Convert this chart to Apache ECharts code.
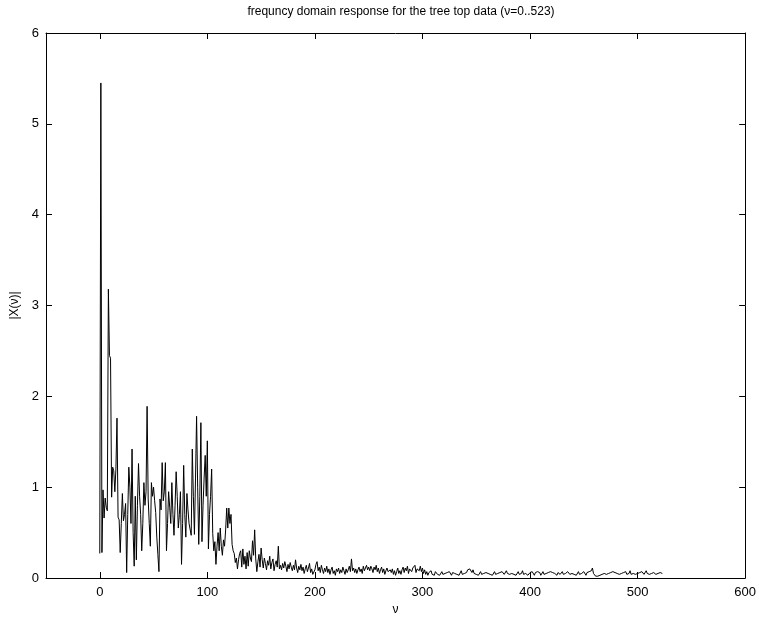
<!DOCTYPE html>
<html>
<head>
<meta charset="utf-8">
<script src="https://cdn.jsdelivr.net/npm/echarts@6/dist/echarts.min.js"></script>
<style>
  html, body { margin: 0; padding: 0; background: #fff; }
  #chart { width: 759px; height: 621px; }
</style>
</head>
<body>
<div id="chart"></div>
<script>
// |X(v)| for v = 0..523
const headValues = [
  0.27, 5.45, 0.28, 0.97, 0.66, 0.88, 0.78, 0.74, 3.18, 2.45,
  2.42, 0.89, 1.22, 1.18, 0.95, 1.20, 1.76, 0.67, 0.64, 0.28,
  0.60, 0.93, 0.63, 0.70, 0.82, 0.06, 0.70, 1.22, 1.00, 0.60,
  1.42, 0.50, 0.13, 0.90, 0.20, 0.80, 1.26, 0.90, 0.70, 0.30,
  0.60, 1.05, 0.80, 0.95, 1.89, 0.87, 0.60, 0.35, 1.05, 0.90,
  1.00, 0.85, 0.72, 0.45, 0.26, 0.07, 0.87, 0.75, 1.27, 0.85,
  0.95, 1.27, 0.30, 0.60, 0.95, 0.78, 0.60, 1.05, 0.70, 0.47,
  0.80, 1.17, 0.90, 0.55, 0.70, 0.95, 0.15, 0.60, 1.24, 0.70,
  0.45, 0.93, 0.75, 0.60, 0.62, 0.47, 1.42, 0.90, 0.48, 1.10,
  1.78, 1.00, 0.37, 0.90, 1.71, 0.40, 0.80, 1.10, 1.35, 0.90,
  1.51, 0.32, 0.70, 0.90, 1.20, 0.49, 0.30, 0.40, 0.15, 0.35,
  0.50, 0.30, 0.55, 0.35, 0.25, 0.42, 0.35, 0.53, 0.77, 0.55,
  0.77, 0.60, 0.70, 0.37, 0.30, 0.27, 0.17, 0.22, 0.10, 0.20,
  0.27
];
const midValues = [
  0.30, 0.12, 0.32, 0.15, 0.24, 0.10, 0.28, 0.13, 0.30, 0.22,
  0.18, 0.41, 0.25, 0.53, 0.21, 0.07, 0.18, 0.26, 0.12, 0.33,
  0.20, 0.11, 0.22, 0.16, 0.09, 0.19, 0.14, 0.24, 0.10, 0.17,
  0.21, 0.08, 0.15, 0.19, 0.12, 0.35, 0.10, 0.14, 0.09, 0.16,
  0.11, 0.18, 0.13, 0.07, 0.15, 0.10, 0.17, 0.12, 0.08, 0.14,
  0.09, 0.20, 0.11, 0.06, 0.13, 0.09, 0.15, 0.08, 0.12, 0.05,
  0.10, 0.14, 0.07, 0.11, 0.16, 0.06, 0.10, 0.04, 0.02, 0.09,
  0.15, 0.18, 0.08, 0.12, 0.06, 0.14, 0.09, 0.05, 0.11, 0.07,
  0.13, 0.06, 0.10, 0.04, 0.09, 0.12, 0.05, 0.08, 0.03, 0.10,
  0.07, 0.11, 0.05, 0.09, 0.06, 0.12, 0.08, 0.04, 0.10, 0.06,
  0.09, 0.13, 0.07, 0.21, 0.08, 0.11, 0.06, 0.10, 0.05, 0.09,
  0.12, 0.07, 0.10, 0.05, 0.13, 0.08, 0.11, 0.14, 0.09, 0.12,
  0.08, 0.13, 0.10, 0.06, 0.12, 0.09, 0.14, 0.07, 0.11, 0.05,
  0.09, 0.12, 0.06, 0.10, 0.04, 0.08, 0.11, 0.07, 0.05, 0.09,
  0.06, 0.10, 0.04, 0.08, 0.03, 0.07, 0.11, 0.05, 0.08, 0.04,
  0.09, 0.12, 0.06, 0.11, 0.08, 0.13, 0.05, 0.10, 0.12, 0.07,
  0.11, 0.09, 0.14, 0.06, 0.10, 0.12, 0.08, 0.13, 0.07, 0.11
];
const tailValues = [
  0.05, 0.09, 0.04, 0.07, 0.03, 0.06, 0.05, 0.08, 0.04, 0.06,
  0.03, 0.07, 0.05, 0.04, 0.06, 0.03, 0.05, 0.07, 0.04, 0.06,
  0.05, 0.03, 0.06, 0.04, 0.07, 0.05, 0.03, 0.06, 0.04, 0.05,
  0.07, 0.04, 0.06, 0.03, 0.05, 0.08, 0.04, 0.06, 0.05, 0.07,
  0.06, 0.09, 0.07, 0.10, 0.08, 0.06, 0.09, 0.05, 0.07, 0.04,
  0.06, 0.03, 0.05, 0.07, 0.04, 0.06, 0.05, 0.03, 0.06, 0.04,
  0.05, 0.07, 0.04, 0.06, 0.03, 0.05, 0.07, 0.04, 0.06, 0.05,
  0.03, 0.06, 0.04, 0.07, 0.05, 0.04, 0.06, 0.08, 0.05, 0.07,
  0.04, 0.06, 0.05, 0.07, 0.04, 0.06, 0.03, 0.05, 0.07, 0.04,
  0.06, 0.05, 0.08, 0.04, 0.06, 0.05, 0.07, 0.03, 0.05, 0.06,
  0.04, 0.07, 0.05, 0.03, 0.06, 0.04, 0.07, 0.05, 0.06, 0.03,
  0.05, 0.07, 0.04, 0.06, 0.05, 0.03, 0.06, 0.04, 0.07, 0.05,
  0.06, 0.04, 0.05, 0.07, 0.03, 0.06, 0.05, 0.04, 0.06, 0.07,
  0.04, 0.06, 0.05, 0.03, 0.07, 0.05, 0.04, 0.06, 0.05, 0.07,
  0.04, 0.06, 0.03, 0.05, 0.07, 0.04, 0.06, 0.05, 0.04, 0.07,
  0.05, 0.03, 0.06, 0.04, 0.07, 0.05, 0.08, 0.11, 0.05, 0.04,
  0.02, 0.03, 0.02, 0.04, 0.03, 0.05, 0.04, 0.06, 0.05, 0.07,
  0.04, 0.06, 0.05, 0.03, 0.06, 0.04, 0.07, 0.05, 0.06, 0.04,
  0.05, 0.07, 0.04, 0.06, 0.05, 0.03, 0.06, 0.05, 0.07, 0.04,
  0.06, 0.05, 0.08, 0.04, 0.06, 0.05, 0.07, 0.04, 0.06, 0.05,
  0.03, 0.06, 0.04, 0.07, 0.05, 0.04, 0.06, 0.08, 0.05, 0.07,
  0.04, 0.06, 0.05, 0.03, 0.06, 0.07, 0.04, 0.06, 0.05, 0.04,
  0.06, 0.04, 0.05
];
const xTicks = [0, 100, 200, 300, 400, 500, 600];
const yTicks = [0, 1, 2, 3, 4, 5, 6];

const magnitudes = headValues.concat(midValues, tailValues);
const points = magnitudes.map((m, v) => [v, m]);

const font = "'Liberation Sans', Arial, sans-serif";
const tickLen = 6;

function xAxisCfg(pos, show) {
  return {
    type: "value", position: pos, min: -50, max: 600,
    name: show ? "\u03bd" : "", nameLocation: "middle", nameGap: 26,
    nameTextStyle: { fontFamily: font, fontSize: 12, color: "#000" },
    axisLine: { show: true, onZero: false, lineStyle: { color: "#000", width: 1 } },
    axisTick: { show: true, inside: true, length: tickLen, customValues: xTicks, lineStyle: { color: "#000" } },
    axisLabel: { show: show, customValues: xTicks, margin: 8, fontFamily: font, fontSize: 13, color: "#000" },
    splitLine: { show: false },
  };
}
function yAxisCfg(pos, show) {
  return {
    type: "value", position: pos, min: 0, max: 6, interval: 1,
    name: show ? "|X(\u03bd)|" : "", nameLocation: "middle", nameGap: 19,
    nameTextStyle: { fontFamily: font, fontSize: 12, color: "#000" },
    axisLine: { show: true, onZero: false, lineStyle: { color: "#000", width: 1 } },
    axisTick: { show: true, inside: true, length: tickLen, customValues: yTicks, lineStyle: { color: "#000" } },
    axisLabel: { show: show, customValues: yTicks, margin: 7, fontFamily: font, fontSize: 13, color: "#000" },
    splitLine: { show: false },
  };
}

const chart = echarts.init(document.getElementById("chart"), null, { renderer: "canvas" });
chart.setOption({
  animation: false,
  backgroundColor: "#fff",
  title: {
    text: "frequncy domain response for the tree top data (\u03bd=0..523)",
    left: 396, top: 1, textAlign: "center",
    textStyle: { fontFamily: font, fontSize: 12, fontWeight: "normal", color: "#000" },
  },
  grid: { left: 46, right: 13, top: 33, bottom: 37, containLabel: false },
  xAxis: [xAxisCfg("bottom", true), xAxisCfg("top", false)],
  yAxis: [yAxisCfg("left", true), yAxisCfg("right", false)],
  series: [{
    type: "line",
    data: points,
    xAxisIndex: 0, yAxisIndex: 0,
    showSymbol: false,
    lineStyle: { color: "#000", width: 1 },
  }],
});
</script>
</body>
</html>
